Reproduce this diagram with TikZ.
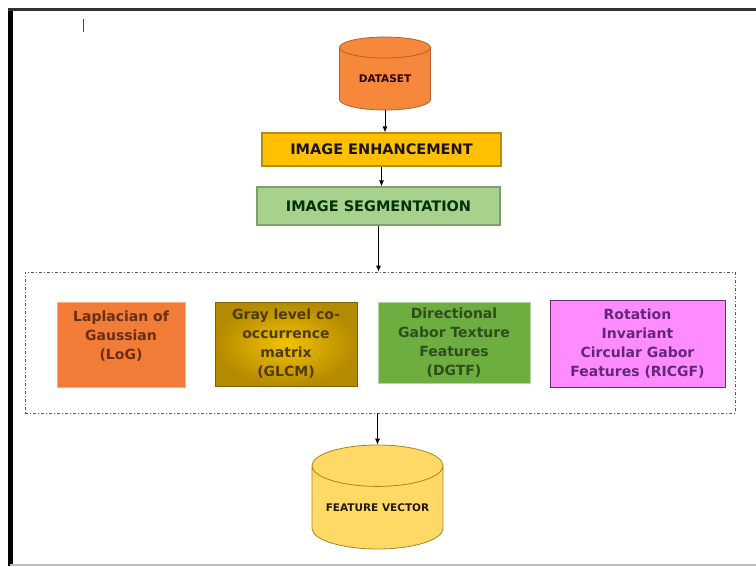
\documentclass[tikz,border=0pt]{standalone}
\usepackage{fontspec}
\setmainfont{DejaVu Sans}
\usetikzlibrary{shapes.geometric,arrows.meta}

\definecolor{dataOrange}{HTML}{F5883A}
\definecolor{dataEdge}{HTML}{B5602A}
\definecolor{enhFill}{HTML}{FFC000}
\definecolor{enhEdge}{HTML}{B88A10}
\definecolor{segFill}{HTML}{A9D18E}
\definecolor{segEdge}{HTML}{7F9F6A}
\definecolor{logFill}{HTML}{F07C38}
\definecolor{logText}{HTML}{6B2E12}
\definecolor{glcmIn}{HTML}{F2C200}
\definecolor{glcmOut}{HTML}{B48A00}
\definecolor{glcmText}{HTML}{4E3C08}
\definecolor{dgtfFill}{HTML}{6EAD40}
\definecolor{dgtfText}{HTML}{2C4E1C}
\definecolor{ricgfFill}{HTML}{FF8CFF}
\definecolor{ricgfEdge}{HTML}{6A2C78}
\definecolor{ricgfText}{HTML}{63277A}
\definecolor{vecFill}{HTML}{FFD966}
\definecolor{vecEdge}{HTML}{A88420}

\begin{document}
\begin{tikzpicture}[x=1pt, y=-1pt,
  procbox/.style={draw, rectangle, line width=1.2pt, inner sep=0pt,
    font=\bfseries\fontsize{14.5}{17}\selectfont},
  featbox/.style={draw, rectangle, align=center, inner sep=0pt, line width=0.8pt,
    font=\bfseries\fontsize{14}{19}\selectfont},
  store/.style={draw, cylinder, shape border rotate=90, aspect=0.4, inner sep=0pt,
    anchor=shape center, line width=0.8pt, font=\bfseries\fontsize{10.5}{12}\selectfont},
  flow/.style={-{Latex[length=6pt,width=5pt]}, line width=0.8pt}]

  \useasboundingbox (0,0) rectangle (756,566);

  % Page frame
  \draw[line width=5pt] (10.5,8) -- (10.5,566);
  \draw[line width=3pt, black!80] (8,9.5) -- (756,9.5);
  \draw[line width=2pt, black!25] (10,564.5) -- (756,564.5);
  \draw[line width=1pt, black!70] (83,19) -- (83,32);

  % Pipeline
  \node[store, fill=dataOrange, draw=dataEdge, text=black!85!red,
    minimum width=91pt, minimum height=73pt] (data) at (385,73.5) {DATASET};
  \node[procbox, fill=enhFill, draw=enhEdge, text=black!85!brown,
    minimum width=239pt, minimum height=33pt] (enh) at (381.5,149.5) {IMAGE ENHANCEMENT};
  \node[procbox, fill=segFill, draw=segEdge, text=black!80!green,
    minimum width=243pt, minimum height=38pt] (seg) at (378.5,206) {IMAGE SEGMENTATION};

  % Feature extraction group
  \node[draw=black!65, line width=0.7pt, dash pattern=on 3pt off 2pt on 1pt off 2pt,
    minimum width=710pt, minimum height=141pt, inner sep=0pt] (group) at (380,342.5) {};
  \node[featbox, fill=logFill, draw=logFill!60!white, text=logText,
    minimum width=128pt, minimum height=85pt] (log) at (121,344.5)
    {Laplacian of\\Gaussian\\(LoG)\\\mbox{}};
  \node[featbox, inner color=glcmIn, outer color=glcmOut, draw=glcmOut!70!black, text=glcmText,
    minimum width=142pt, minimum height=84pt] (glcm) at (286,344)
    {Gray level co-\\occurrence\\matrix\\(GLCM)};
  \node[featbox, fill=dgtfFill, draw=dgtfFill!50!white, text=dgtfText,
    minimum width=152pt, minimum height=81pt] (dgtf) at (454,342.5)
    {Directional\\Gabor Texture\\Features\\(DGTF)};
  \node[featbox, fill=ricgfFill, draw=ricgfEdge, text=ricgfText,
    minimum width=175pt, minimum height=87pt] (ricgf) at (637.5,343.5)
    {Rotation\\Invariant\\Circular Gabor\\Features (RICGF)};

  \node[store, fill=vecFill, draw=vecEdge, text=black!80!brown,
    minimum width=131pt, minimum height=104pt] (vec) at (377.5,497) {FEATURE VECTOR};

  % Arrows
  \draw[flow] (data.bottom) -- (data.bottom |- enh.north);
  \draw[flow] (enh.south) -- (enh.south |- seg.north);
  \draw[flow] (seg.south) -- (seg.south |- group.north);
  \draw[flow] (vec.top |- group.south) -- (vec.top);

\end{tikzpicture}
\end{document}
